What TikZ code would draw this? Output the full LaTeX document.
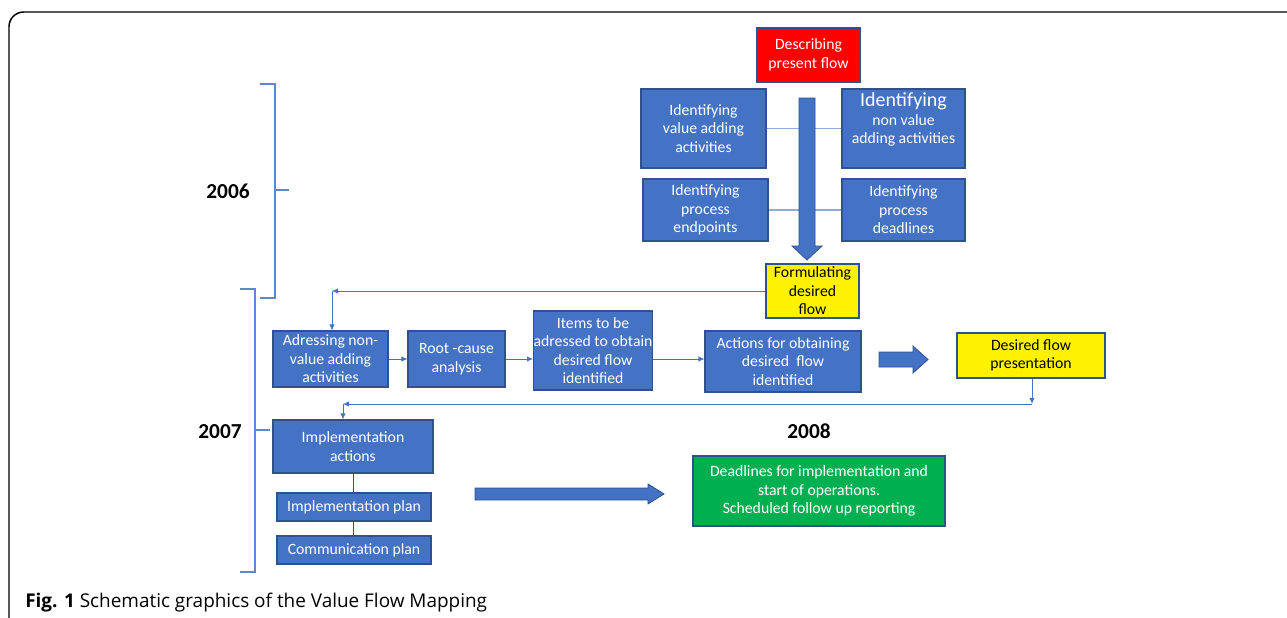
\documentclass[tikz,border=0pt]{standalone}
\usepackage{fontspec}
\setmainfont{Carlito}
\newfontfamily\capfont{Open Sans}
\usetikzlibrary{arrows.meta}

\definecolor{boxblue}{HTML}{4472C4}
\definecolor{edgeblue}{HTML}{2F528F}
\definecolor{lineblue}{HTML}{8FAADC}
\definecolor{flowgreen}{HTML}{00B050}
\def\pu{0.75pt}

\tikzset{
  box/.style={draw=edgeblue, line width=0.8pt, fill=boxblue, text=white,
    align=center, inner sep=0pt, font=\fontsize{11.8}{13.9}\selectfont},
  redbox/.style={box, fill=red},
  yellowbox/.style={box, fill=yellow, text=black},
  greenbox/.style={box, fill=flowgreen, draw=edgeblue},
  flow/.style={draw=boxblue, line width=0.6pt, -{Latex[length=4.5pt,width=4pt]}},
  link/.style={draw=lineblue, line width=0.8pt},
  stem/.style={draw=edgeblue, line width=0.5pt},
  blockarrow/.style={fill=boxblue, draw=edgeblue, line width=0.6pt},
  bracket/.style={draw=boxblue!85!white, line width=0.9pt},
  year/.style={font=\fontsize{16}{18}\selectfont\bfseries}
}

\begin{document}
\begin{tikzpicture}[x=0.75pt, y=-0.75pt]
  \useasboundingbox (0,0) rectangle (1287,617);

  % outer frame and caption
  \draw[line width=1.1pt, rounded corners=11pt] (9,625) |- (1295,12);
  \node[anchor=base west, inner sep=0pt, font=\capfont\fontsize{14.2}{16}\selectfont]
    (caption) at (25,607) {\textbf{Fig. 1} Schematic graphics of the Value Flow Mapping};

  % 2006
  \node[redbox, minimum width=103*\pu, minimum height=54*\pu] (describe) at (808.5,55)
    {Describing\\present flow};
  \node[box, minimum width=125*\pu, minimum height=79*\pu] (valueadd) at (703.5,128.5)
    {Identifying\\value adding\\activities};
  \node[box, minimum width=123*\pu, minimum height=79*\pu,
    label={[anchor=north, align=center, text=white, inner sep=0pt, yshift=-3pt,
      font=\fontsize{11.8}{13.9}\selectfont]north:{\fontsize{15}{17}\selectfont Identifying}\\non value\\adding activities}]
    (nonvalue) at (903.5,128.5) {};
  \node[box, minimum width=125*\pu, minimum height=62*\pu] (endpoints) at (705.5,210)
    {Identifying\\process\\endpoints};
  \node[box, minimum width=123*\pu, minimum height=62*\pu] (deadlines) at (903.5,210)
    {Identifying\\process\\deadlines};
  \node[yellowbox, minimum width=93*\pu, minimum height=54*\pu] (formulate) at (812.5,291)
    {Formulating\\desired\\flow};

  \draw[link] (valueadd.east) -- (nonvalue.west);
  \draw[link] (endpoints.east) -- (deadlines.west);
  \draw[blockarrow] (799,98) -- (815,98) -- (815,246) -- (822,246) -- (807,260)
    -- (792,246) -- (799,246) -- cycle;

  % 2007
  \node[box, minimum width=115*\pu, minimum height=56*\pu] (adressing) at (330.5,359)
    {Adressing non-\\value adding\\activities};
  \node[box, minimum width=97*\pu, minimum height=56*\pu] (rootcause) at (456.5,359)
    {Root -cause\\analysis};
  \node[box, minimum width=118*\pu, minimum height=79*\pu] (items) at (593,350.5)
    {Items to be\\adressed to obtain\\desired flow\\identified};
  \node[box, minimum width=156*\pu, minimum height=61*\pu] (actions) at (783,361.5)
    {Actions for obtaining\\desired\ \ flow\\identified};
  \node[yellowbox, minimum width=148*\pu, minimum height=45*\pu] (presentation) at (1031,355.5)
    {Desired flow\\presentation};
  \node[box, minimum width=160*\pu, minimum height=53*\pu] (implactions) at (353,446.5)
    {Implementation\\actions};
  \node[box, minimum width=154*\pu, minimum height=28*\pu] (implplan) at (354,507)
    {Implementation plan};
  \node[box, minimum width=154*\pu, minimum height=28*\pu] (commplan) at (354,550)
    {Communication plan};

  \coordinate (turnA) at (332,291);
  \draw[flow] (formulate.west) -- (turnA);
  \draw[flow] (turnA) -- (turnA |- adressing.north);
  \draw[flow] (adressing.east) -- (rootcause.west);
  \draw[flow] (rootcause.east) -- (rootcause.east -| items.west);
  \draw[flow] (items.east |- 0,359) -- (actions.west |- 0,359);
  \draw[blockarrow] (879,352) -- (913,352) -- (913,346) -- (928,359.5) -- (913,373)
    -- (913,367) -- (879,367) -- cycle;

  \coordinate (turnB) at (1032,404);
  \coordinate (turnC) at (343,404);
  \draw[flow] (presentation.south -| turnB) -- (turnB);
  \draw[flow] (turnB) -- (turnC);
  \draw[flow] (turnC) -- (turnC |- implactions.north);
  \draw[stem] (implactions.south -| 353,0) -- (implplan.north -| 353,0);
  \draw[stem] (implplan.south -| 353,0) -- (commplan.north -| 353,0);

  % 2008
  \node[year] (y2008) at (809,431) {2008};
  \node[greenbox, minimum width=252*\pu, minimum height=70*\pu] (deadlinesops) at (819,491)
    {Deadlines for implementation and\\start of operations.\\Scheduled follow up reporting};
  \draw[blockarrow] (475,488) -- (648,488) -- (648,484) -- (664,494) -- (648,504)
    -- (648,500) -- (475,500) -- cycle;

  % year brackets
  \node[year] (y2006) at (228,191) {2006};
  \draw[bracket] (260,84) -- (275,84) -- (275,298) -- (260,298);
  \draw[bracket] (275,190) -- (289,190);
  \node[year] (y2007) at (220,432) {2007};
  \draw[bracket] (240,289) -- (255,289) -- (255,572) -- (240,572);
  \draw[bracket] (255,430) -- (270,430);
\end{tikzpicture}
\end{document}
